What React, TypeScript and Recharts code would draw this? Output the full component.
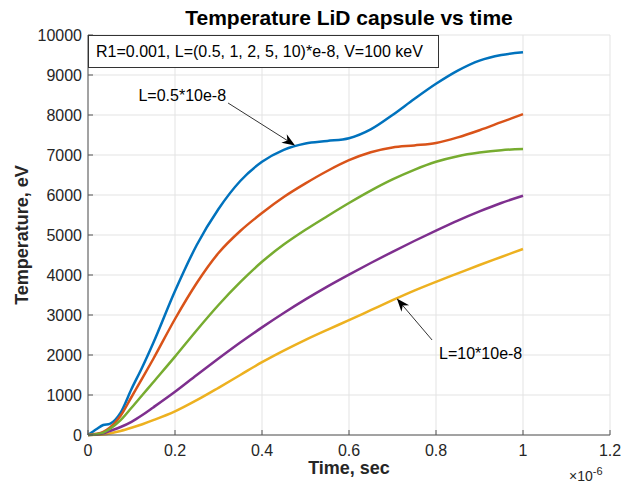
import { LineChart, Line, XAxis, YAxis, CartesianGrid, ReferenceLine } from "recharts";

// time in microseconds (axis shows x10^-6)
const times = [0, 0.02, 0.035, 0.05, 0.075, 0.1, 0.125, 0.15, 0.2, 0.25, 0.3, 0.35, 0.4, 0.45, 0.5, 0.55, 0.6, 0.65, 0.7, 0.75, 0.8, 0.85, 0.9, 0.95, 1.0];

const tempL05 = [0, 150, 250, 280, 560, 1150, 1700, 2300, 3600, 4750, 5650, 6350, 6830, 7130, 7290, 7350, 7420, 7640, 8000, 8400, 8780, 9110, 9360, 9500, 9570];
const tempL1 = [0, 30, 80, 180, 480, 950, 1420, 1900, 2900, 3800, 4550, 5100, 5550, 5950, 6290, 6600, 6870, 7070, 7190, 7240, 7300, 7440, 7620, 7820, 8020];
const tempL2 = [0, 20, 60, 150, 370, 680, 1000, 1320, 1960, 2620, 3250, 3820, 4330, 4760, 5130, 5470, 5800, 6110, 6390, 6630, 6830, 6970, 7060, 7120, 7150];
const tempL5 = [0, 10, 40, 100, 200, 330, 500, 690, 1080, 1500, 1910, 2310, 2690, 3050, 3390, 3710, 4010, 4300, 4580, 4850, 5110, 5360, 5590, 5800, 5980];
const tempL10 = [0, 5, 15, 40, 100, 180, 270, 370, 590, 870, 1180, 1500, 1820, 2110, 2380, 2630, 2870, 3120, 3370, 3610, 3830, 4040, 4250, 4450, 4650];

const xTicks = [0, 0.2, 0.4, 0.6, 0.8, 1, 1.2];
const yTicks = [0, 1000, 2000, 3000, 4000, 5000, 6000, 7000, 8000, 9000, 10000];

// MATLAB default order: blue, orange, yellow, purple, green
const series = [
  { key: "L05", color: "#0072BD", values: tempL05 },
  { key: "L1", color: "#D95319", values: tempL1 },
  { key: "L10", color: "#EDB120", values: tempL10 },
  { key: "L5", color: "#7E2F8E", values: tempL5 },
  { key: "L2", color: "#77AC30", values: tempL2 },
];

const data = times.map((t, i) => {
  const row: Record<string, number> = { t };
  series.forEach((s) => (row[s.key] = s.values[i]));
  return row;
});

const font = "'Liberation Sans', Arial, sans-serif";
const tickStyle = { fontSize: 16, fill: "#262626", fontFamily: font };

function Arrow(props: any) {
  const { x1, y1, x2, y2, text, anchor, tdx, tdy } = props;
  const ang = Math.atan2(y2 - y1, x2 - x1);
  const len = 13;
  const half = 5;
  const bx = x2 - len * Math.cos(ang);
  const by = y2 - len * Math.sin(ang);
  const nx = -Math.sin(ang);
  const ny = Math.cos(ang);
  const notchX = x2 - len * 0.7 * Math.cos(ang);
  const notchY = y2 - len * 0.7 * Math.sin(ang);
  const pts = [
    [x2, y2],
    [bx + nx * half, by + ny * half],
    [notchX, notchY],
    [bx - nx * half, by - ny * half],
  ]
    .map((p) => p.join(","))
    .join(" ");
  return (
    <g>
      <line x1={x1} y1={y1} x2={notchX} y2={notchY} stroke="#333" strokeWidth={1} />
      <polygon points={pts} fill="#000" />
      <text x={x1 + tdx} y={y1 + tdy} textAnchor={anchor} dominantBaseline="central" fontSize={16} fontFamily={font} fill="#000">
        {text}
      </text>
    </g>
  );
}

export default function App() {
  return (
    <div style={{ position: "relative", width: 630, height: 486, background: "#fff", fontFamily: font }}>
      <style>{"body{margin:0}"}</style>
      <LineChart width={630} height={486} data={data} margin={{ top: 35, right: 20, bottom: 0, left: 0 }}>
        <CartesianGrid stroke="#e3e3e3" strokeWidth={1} />
        <XAxis
          dataKey="t"
          type="number"
          domain={[0, 1.2]}
          ticks={xTicks}
          height={51}
          stroke="#555"
          tickSize={-5}
          tickMargin={15}
          tick={tickStyle}
          interval={0}
        />
        <XAxis xAxisId="top" orientation="top" type="number" domain={[0, 1.2]} ticks={xTicks} height={0} stroke="#555" tickSize={-5} tick={false} />
        <YAxis
          type="number"
          domain={[0, 10000]}
          ticks={yTicks}
          width={88}
          stroke="#555"
          tickSize={-5}
          tickMargin={11}
          tick={tickStyle}
          interval={0}
        />
        <YAxis yAxisId="right" orientation="right" type="number" domain={[0, 10000]} ticks={yTicks} width={0} stroke="#555" tickSize={-5} tick={false} />
        {series.map((s) => (
          <Line
            key={s.key}
            type="monotone"
            dataKey={s.key}
            stroke={s.color}
            strokeWidth={2.5}
            dot={false}
            isAnimationActive={false}
          />
        ))}
        <ReferenceLine
          segment={[{ x: 0.322, y: 8300 }, { x: 0.476, y: 7240 }]}
          shape={(p: any) => <Arrow {...p} text="L=0.5*10e-8" anchor="end" tdx={-2} tdy={-8} />}
        />
        <ReferenceLine
          segment={[{ x: 0.791, y: 2375 }, { x: 0.71, y: 3410 }]}
          shape={(p: any) => <Arrow {...p} text="L=10*10e-8" anchor="start" tdx={7} tdy={13} />}
        />
      </LineChart>

      <div style={{ position: "absolute", left: 88, right: 20, top: 6, textAlign: "center", fontSize: 21, fontWeight: "bold", color: "#000" }}>
        Temperature LiD capsule vs time
      </div>
      <div
        style={{
          position: "absolute",
          left: 88,
          top: 35,
          width: 351,
          height: 33,
          border: "1px solid #333",
          background: "#fff",
          fontSize: 16,
          color: "#000",
          lineHeight: "31px",
          paddingLeft: 7,
          boxSizing: "border-box",
          whiteSpace: "nowrap",
        }}
      >
        R1=0.001, L=(0.5, 1, 2, 5, 10)*e-8, V=100 keV
      </div>
      <div
        style={{
          position: "absolute",
          left: 22,
          top: 235,
          transform: "translate(-50%, -50%) rotate(-90deg)",
          fontSize: 18,
          fontWeight: "bold",
          color: "#262626",
          whiteSpace: "nowrap",
        }}
      >
        Temperature, eV
      </div>
      <div style={{ position: "absolute", left: 88, right: 20, top: 458, textAlign: "center", fontSize: 18, fontWeight: "bold", color: "#262626" }}>
        Time, sec
      </div>
      <div style={{ position: "absolute", left: 569, top: 465, fontSize: 14, color: "#262626", whiteSpace: "nowrap" }}>
        ×10<sup style={{ fontSize: 11 }}>-6</sup>
      </div>
    </div>
  );
}
